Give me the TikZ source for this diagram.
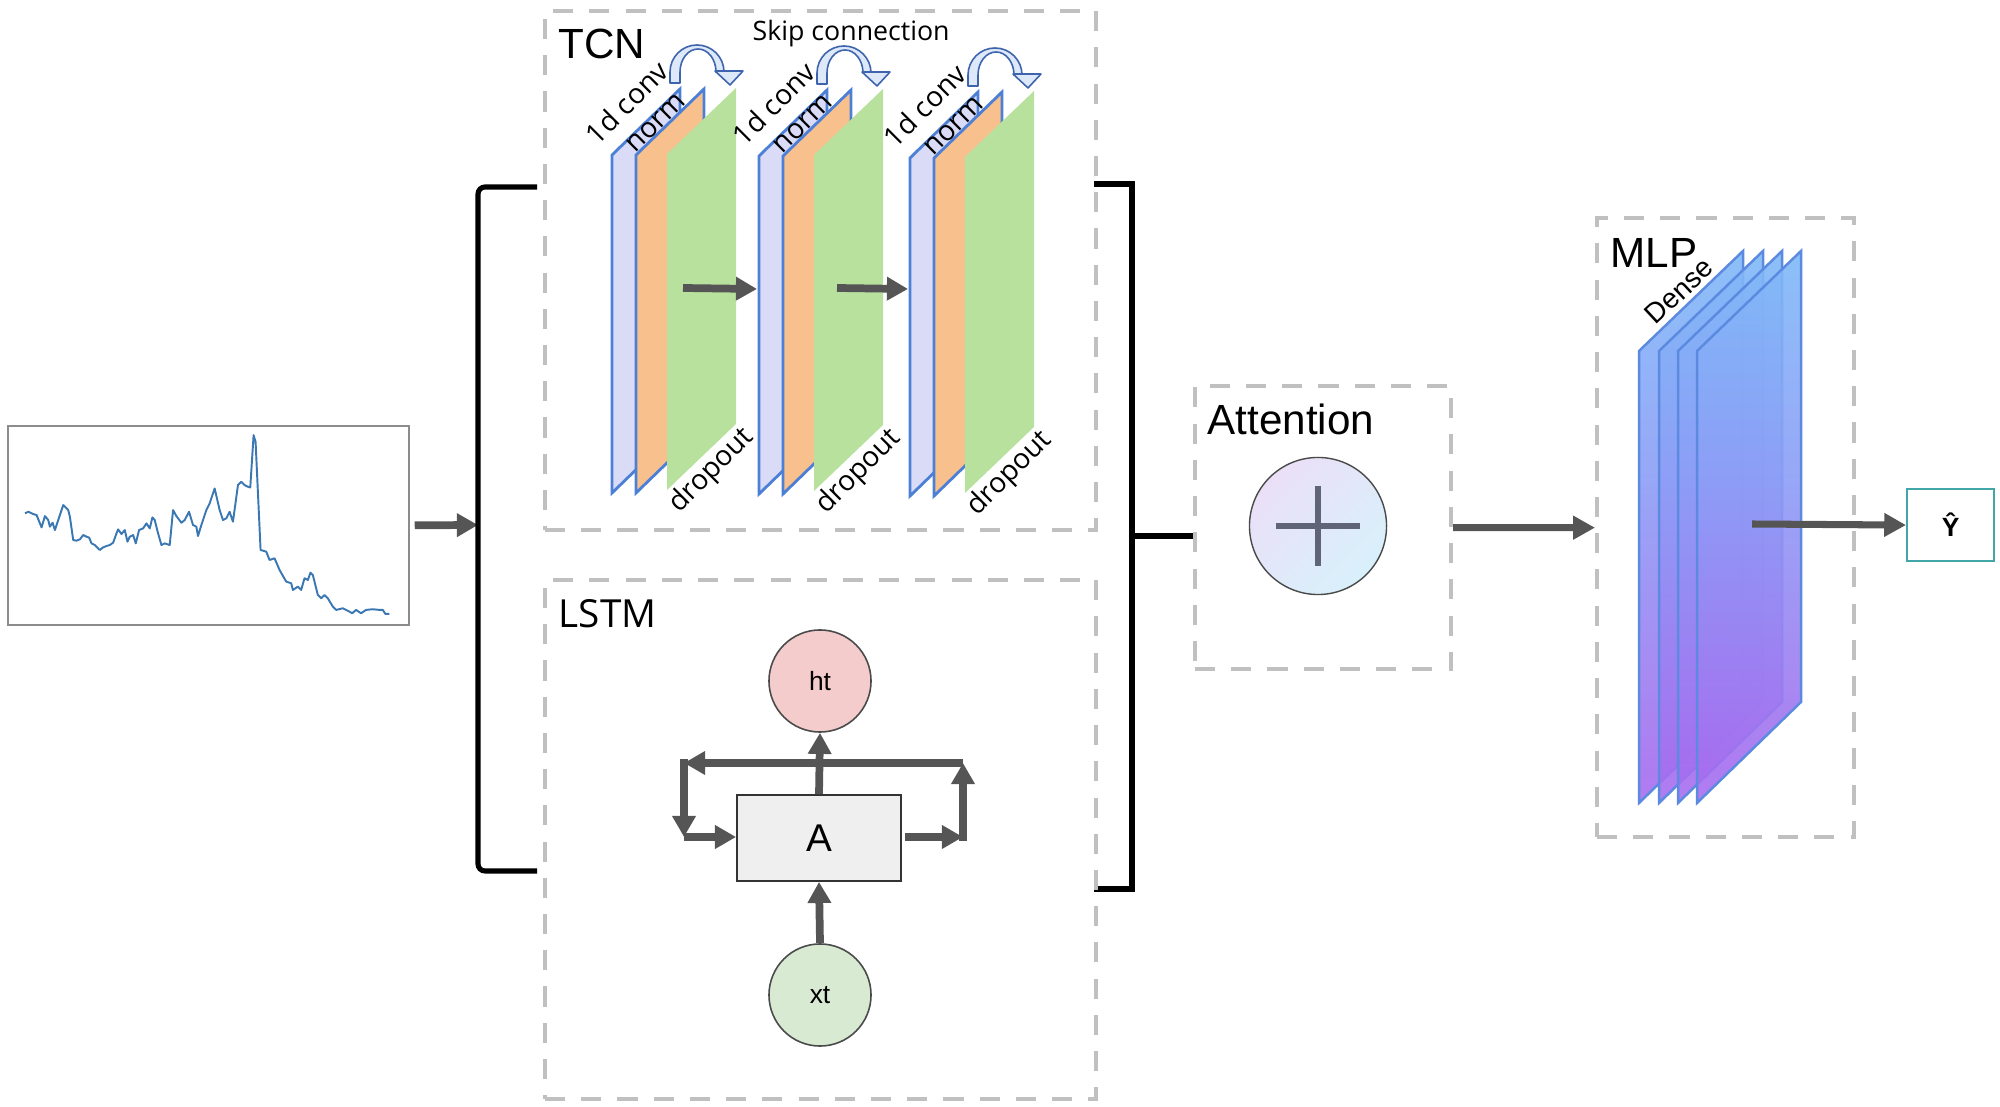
\documentclass[tikz,border=0pt]{standalone}
\usepackage{fontspec}
\setmainfont{Liberation Sans}
\newfontfamily\thinfont{Open Sans}
\usetikzlibrary{arrows.meta}
\definecolor{dashgray}{HTML}{C0C0C0}
\definecolor{arrgray}{HTML}{555555}
\definecolor{sheetblue}{HTML}{D9DBF7}
\definecolor{sheetorange}{HTML}{F8C08D}
\definecolor{sheetgreen}{HTML}{B8E19E}
\definecolor{edgeblue}{HTML}{4C7FD6}
\definecolor{skipfill}{HTML}{DDE8F8}
\definecolor{skipedge}{HTML}{3E64AE}
\definecolor{htfill}{HTML}{F4CCCC}
\definecolor{xtfill}{HTML}{D9EAD3}
\definecolor{boxfill}{HTML}{EFEFEF}
\definecolor{circedge}{HTML}{4A4A4A}
\definecolor{plusA}{HTML}{EBDFF7}
\definecolor{plusB}{HTML}{D8F1FB}
\definecolor{plusline}{HTML}{5F6577}
\definecolor{yhatedge}{HTML}{42A5A8}
\definecolor{seriesblue}{HTML}{3B78B3}
\definecolor{seriesedge}{HTML}{8C8C8C}
\definecolor{mlpedge}{HTML}{5B8AE0}
\definecolor{mlpA}{HTML}{EBCFF8}
\definecolor{mlpB}{HTML}{B57CF0}
\definecolor{mlpC}{HTML}{A56EEF}
\definecolor{mlpD}{HTML}{8C9EF6}
\definecolor{mlpE}{HTML}{7AC6F8}
\definecolor{mlpF}{HTML}{C4EEFC}
\pgfdeclareverticalshading{mlpshade}{100bp}{color(0bp)=(mlpA); color(7bp)=(mlpB); color(28bp)=(mlpC); color(55bp)=(mlpD); color(84bp)=(mlpE); color(100bp)=(mlpF)}
\begin{document}
\begin{tikzpicture}[x=0.01cm,y=-0.01cm,
  dashbox/.style={draw=dashgray, line width=1.15pt, dash pattern=on 5.7pt off 4.6pt, inner sep=0pt, anchor=north west},
  fatarrow/.style={draw=arrgray, line width=2.2pt, -{Triangle[length=6pt,width=6.4pt]}},
  fatarrowb/.style={draw=arrgray, line width=2pt, -{Triangle[length=6.2pt,width=6.4pt]}},
  cornerarrow/.style={fatarrow, line cap=rect},
  bracket/.style={draw=black, line width=1.45pt},
  tcnsheet/.style={draw=edgeblue, line width=0.8pt, line join=miter},
  skipshape/.style={draw=skipedge, fill=skipfill, line width=0.45pt, line join=round},
  title/.style={font=\fontsize{12}{14}\selectfont, anchor=base west, inner sep=0pt},
  thintitle/.style={font=\thinfont\fontsize{11}{13}\selectfont, anchor=base west, inner sep=0pt},
  smalltxt/.style={font=\thinfont\fontsize{8}{9}\selectfont, inner sep=0pt},
  cell/.style={circle, draw=circedge, line width=0.45pt, minimum size=1.02cm, inner sep=0pt, font=\fontsize{7.5}{9}\selectfont},
  plusline/.style={draw=plusline, line width=1.7pt}
]
\useasboundingbox (0,0) rectangle (2000,1107);

% ---------- input series ----------
\node[draw=seriesedge, line width=0.45pt, minimum width=4.01cm, minimum height=1.99cm, inner sep=0pt, anchor=north west] (series) at (7,425) {};
\begin{scope}[x=0.0033333cm, y=-0.0033333cm, shift={(0cm,-4.1cm)}]
\draw[seriesblue, line width=0.55pt, line join=round] plot coordinates {
(75,310) (85,305) (100,312) (110,315) (120,340) (125,352) (135,318) (145,330) (150,350) (158,338) (165,360) (175,330) (190,285) (205,300) (210,320) (220,390) (230,392) (240,388) (250,375) (260,380) (268,383) (275,400) (285,405) (290,410) (300,420) (310,412) (320,408) (330,405) (340,398) (350,370) (355,358) (365,372) (375,360) (383,395) (390,380) (400,375) (408,400) (418,360) (430,355) (440,340) (450,355) (458,322) (465,330) (475,370) (485,405) (495,400) (510,405) (520,300) (530,318) (545,338) (555,330) (568,305) (580,345) (590,350) (595,378) (605,345) (620,300) (630,280) (635,265) (645,235) (660,300) (670,330) (680,325) (690,305) (700,335) (715,225) (725,215) (735,225) (745,230) (752,232) (762,75) (768,95) (783,420) (790,422) (800,425) (810,450) (825,445) (840,480) (860,515) (875,520) (880,540) (895,530) (905,540) (915,505) (925,510) (933,488) (940,495) (955,555) (965,565) (975,555) (985,565) (1000,590) (1010,600) (1030,595) (1050,605) (1058,610) (1070,600) (1085,610) (1100,600) (1120,598) (1140,600) (1150,600) (1158,612) (1170,612)};
\end{scope}
\coordinate (lbrmid) at (478,525);
\draw[fatarrow, shorten <=1.4pt] (series.east) -- (lbrmid);

% ---------- brackets ----------
\draw[bracket, rounded corners=2pt] (537,187) -- (478,187) -- (478,871) -- (537,871);
\draw[bracket] (1094,184) -- (1132,184) -- (1132,889) -- (1094,889);

% ---------- TCN ----------
\node[dashbox, minimum width=5.51cm, minimum height=5.19cm] (tcn) at (543,9) {};
\node[title] (tcntitle) at (558,59) {TCN};
\node[font=\thinfont\fontsize{7.6}{9}\selectfont, anchor=base west, inner sep=0pt] (skiptxt) at (752,41) {Skip connection};
\foreach \L/\d/\g in {612/0/1, 759/1/2, 910/3/3} {
  \begin{scope}[shift={(0,\d)}]
    \draw[tcnsheet, fill=sheetblue] (\L,155) -- ++(68,-66) -- ++(0,338) -- ++(-68,66) -- cycle;
    \draw[tcnsheet, fill=sheetorange] ({\L+24},155) -- ++(68,-66) -- ++(0,338) -- ++(-68,66) -- cycle;
    \fill[sheetgreen] ({\L+55},154) -- ++(69,-66) -- ++(0,336) -- ++(-69,66) -- cycle;
    \node[smalltxt, rotate=45, anchor=base] (conv\g) at ({\L+22},110) {1d conv};
    \node[smalltxt, rotate=45] (norm\g) at ({\L+44},123) {norm};
    \node[smalltxt, rotate=45] (drop\g) at ({\L+100},471) {dropout};
    \draw[skipshape] ({\L+58},83) -- ({\L+58},72) arc[start angle=180, end angle=360, radius=27]
       -- ({\L+104},72) arc[start angle=360, end angle=180, x radius=18, y radius=23] -- ({\L+68},83) -- cycle;
    \draw[skipshape] ({\L+103},71) -- ({\L+131},71) -- ({\L+118},85) -- cycle;
  \end{scope}
}
\coordinate (g1out) at (683,288);
\coordinate (g2in) at (757,289);
\coordinate (g2out) at (837,288);
\coordinate (g3in) at (908,289);
\draw[fatarrow] (g1out) -- (g2in);
\draw[fatarrow] (g2out) -- (g3in);

% ---------- LSTM ----------
\node[dashbox, minimum width=5.51cm, minimum height=5.19cm] (lstm) at (543,578) {};
\node[thintitle] (lstmtitle) at (558,628) {LSTM};
\node[cell, fill=htfill] (ht) at (820,681) {ht};
\node[cell, fill=xtfill] (xt) at (820,995) {xt};
\node[draw=black!80, fill=boxfill, line width=0.5pt, minimum width=1.64cm, minimum height=0.86cm, inner sep=0pt, font=\fontsize{11}{13}\selectfont] (A) at (819,838) {A};
\coordinate (ltop) at (684,763);
\coordinate (rtop) at (963,763);
\coordinate (lbot) at (684,837);
\coordinate (rbot) at (963,837);
\draw[fatarrow] (A.north) -- (ht.south);
\draw[fatarrow] (rtop) -- (ltop);
\draw[cornerarrow] (ltop) -- (lbot);
\draw[fatarrow] (lbot) -- (A.west |- lbot);
\draw[fatarrow, shorten <=1pt] (A.east |- rbot) -- (rbot);
\draw[cornerarrow] (rbot) -- (rtop);
\draw[fatarrow] (xt.north) -- (A.south);

% ---------- Attention ----------
\node[dashbox, minimum width=2.56cm, minimum height=2.83cm] (att) at (1193,384) {};
\node[title] (atttitle) at (1207,435) {Attention};
\node[circle, draw=circedge, line width=0.4pt, top color=plusA, bottom color=plusB, shading angle=45, minimum size=1.37cm, inner sep=0pt] (plus) at (1318,526) {};
\draw[plusline] ([xshift=-0.42cm]plus.center) -- ([xshift=0.42cm]plus.center);
\draw[plusline] ([yshift=0.40cm]plus.center) -- ([yshift=-0.40cm]plus.center);
\coordinate (rbrmid) at (1132,536);
\draw[bracket] (rbrmid) -- (rbrmid -| att.west);

% ---------- MLP ----------
\node[dashbox, minimum width=2.57cm, minimum height=6.19cm] (mlp) at (1595,216) {};
\foreach \L in {1639,1659,1678,1697} {
  \path[shade, shading=mlpshade, fill opacity=0.9, draw=mlpedge, line width=0.7pt, draw opacity=1] (\L,351) -- ++(104,-100) -- ++(0,451) -- ++(-104,101) -- cycle;
}
\node[title] (mlptitle) at (1610,268) {MLP};
\node[font=\fontsize{8}{9}\selectfont, inner sep=0pt, rotate=43] (dense) at (1679,291) {Dense};
\draw[fatarrowb] (att.east) -- (mlp.west);

% ---------- output ----------
\node[draw=yhatedge, line width=0.6pt, minimum width=0.87cm, minimum height=0.72cm, anchor=north west, inner sep=0pt, font=\bfseries\fontsize{7.5}{8}\selectfont] (yhat) at (1906,488) {Ŷ};
\coordinate (mlpout) at (1752,524);
\draw[fatarrowb] (mlpout) -- (yhat.west);
\end{tikzpicture}
\end{document}
